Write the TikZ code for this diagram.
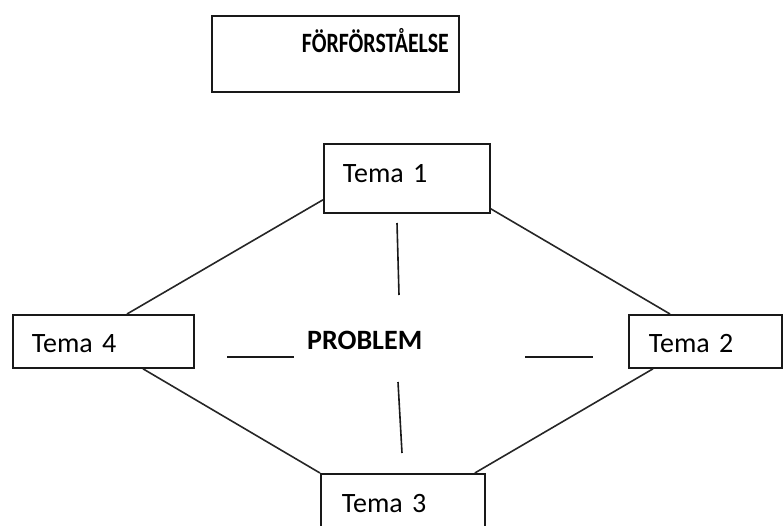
\documentclass[tikz,border=0pt]{standalone}
\usepackage{fontspec}
\usepackage{graphicx}
\setmainfont{Carlito}
\usetikzlibrary{calc}
\begin{document}
\begin{tikzpicture}[x=1pt,y=-1pt,
  box/.style={draw=black!90,line width=1.8pt,rectangle,inner ysep=0pt,align=left,
    font=\fontsize{28}{34}\selectfont},
  link/.style={draw=black!85,line width=1.6pt},
  bar/.style={draw=black!90,line width=1.6pt}]
\useasboundingbox (0,0) rectangle (784,525);
\clip (0,0) rectangle (784,525);
% top box
\node[box,font=\fontsize{28}{34}\selectfont\bfseries,anchor=north west,inner xsep=0pt,
  text width=247pt,text height=37pt,text depth=39pt] (pre) at (211,15)
  {\hspace*{90pt}\scalebox{0.78}[1]{FÖRFÖRSTÅELSE}};
% tema boxes
\node[box,anchor=north west,inner xsep=19pt,text width=128pt,text height=39pt,text depth=30pt]
  (t1) at (323,143) {Tema 1};
\node[box,anchor=north west,inner xsep=19pt,text width=143pt,text height=38pt,text depth=15pt]
  (t4) at (12,314) {Tema 4};
\node[box,anchor=north west,inner xsep=20pt,text width=113pt,text height=38pt,text depth=15pt]
  (t2) at (628,314) {Tema 2};
\node[box,anchor=north west,inner xsep=21pt,text width=122pt,text height=39pt,text depth=30pt]
  (t3) at (320,473) {Tema 3};
% centre
\node[font=\fontsize{28}{34}\selectfont\bfseries,anchor=base west,inner sep=0pt]
  (prob) at (307,349) {PROBLEM};
% connectors
\draw[link] ($(t1.south west)+(0,-14)$) -- ($(t4.north west)+(115,0)$);
\draw[link] ($(t1.south east)+(0,-5)$) -- ($(t2.north west)+(42,0)$);
\draw[link] ($(t4.south west)+(131,0)$) -- (t3.north west);
\draw[link] ($(t2.south west)+(25,0)$) -- ($(t3.north east)+(-11,0)$);
% centre bars
\coordinate (ua) at (397,223); \coordinate (ub) at (399,295);
\coordinate (da) at (398,382); \coordinate (db) at (402,453);
\coordinate (la) at (227,357); \coordinate (lb) at (294,357);
\coordinate (ra) at (525,357); \coordinate (rb) at (593,357);
\draw[bar] (ua) -- (ub);
\draw[bar] (da) -- (db);
\draw[bar] (la) -- (lb);
\draw[bar] (ra) -- (rb);
\end{tikzpicture}
\end{document}
